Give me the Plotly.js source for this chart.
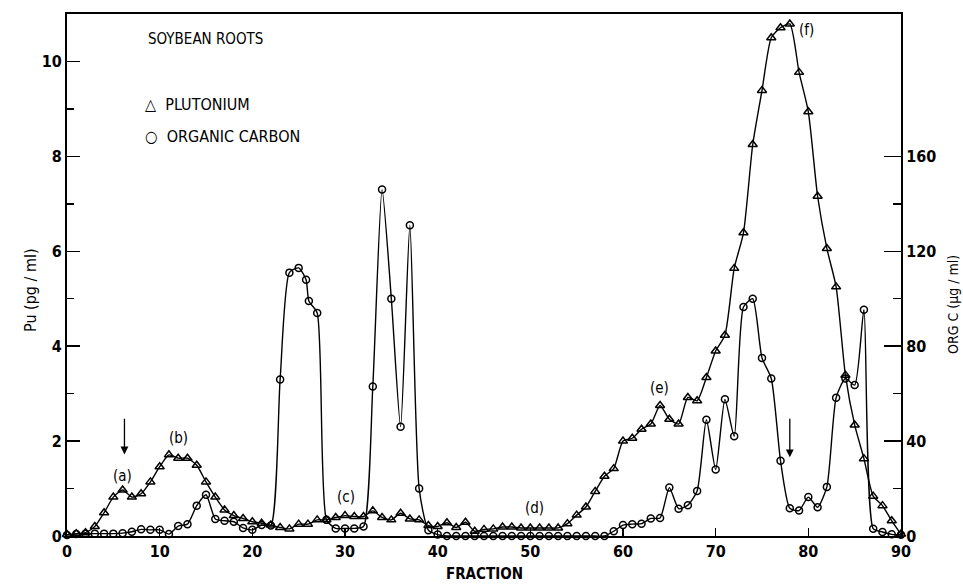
<!DOCTYPE html>
<html><head><meta charset="utf-8">
<script src="https://cdn.plot.ly/plotly-3.0.1.min.js"></script>
<style>html,body{margin:0;padding:0;background:#fff}#chart{width:963px;height:587px}</style>
</head><body><div id="chart"></div>
<script>
// Plutonium (pg/ml), one value per fraction 0..90
const puFraction = [];
for (let i = 0; i <= 90; i++) puFraction.push(i);
const puValues = [
  0.03,0.05,0.07,0.2,0.49,0.82,0.97,0.82,0.89,1.14,
  1.46,1.71,1.64,1.64,1.49,1.14,0.82,0.55,0.43,0.37,
  0.3,0.27,0.23,0.18,0.15,0.25,0.25,0.34,0.34,0.39,
  0.43,0.41,0.41,0.53,0.39,0.34,0.48,0.36,0.34,0.22,
  0.2,0.28,0.18,0.29,0.1,0.14,0.15,0.19,0.19,0.17,
  0.17,0.17,0.17,0.17,0.26,0.44,0.61,0.94,1.26,1.42,
  2.0,2.06,2.25,2.36,2.75,2.46,2.36,2.92,2.85,3.34,
  3.9,4.23,5.64,6.39,8.25,9.39,10.5,10.71,10.79,9.77,
  8.94,7.16,6.06,5.25,3.39,2.34,1.63,0.84,0.64,0.32,
  0.04
];
// Organic carbon (ug/ml)
const orgFraction = [
  0,1,2,3,4,5,6,7,8,9,10,11,12,13,14,15,16,17,18,19,20,21,22,23,24,25,25.8,26.1,27,28,29,30,31,32,33,34,35,36,37,38,39,40,
  41,42,43,44,45,46,47,48,49,50,51,52,53,54,55,56,57,58,59,60,61,62,63,64,65,66,67,68,69,70,71,72,73,74,75,76,77,78,79,80,
  81,82,83,84,85,86,87,88,89,90
];
const orgValues = [
  0.4,0.8,1,1,1,1,1.2,1.8,2.8,2.6,2.6,0.8,4.2,5,12.8,17.4,7.2,6.4,6,3.4,2.6,4.6,4.4,66,111,113,108,99,94,6.8,3.2,3.2,3.2,4,63,146,100,46,131,20,2.4,0.6,
  0,0,0,0,0,0,0,0,0,0,0,0,0,0,0,0,0,0,2,4.6,5,5.2,7.4,7.6,20.4,11.5,13,19,49,28,57.6,42,96.5,100,75,66.4,31.7,11.7,10.7,16.4,
  12.1,20.7,58.3,66.4,63.6,95.4,3.1,1.7,0.7,0.5
];
const xTickVals = [0,10,20,30,40,50,60,70,80,90];
const yTickVals = [0,2,4,6,8,10];
const yMinorVals = [1,3,5,7,9];
const y2TickVals = [0,40,80,120,160];
const y2MinorVals = [20,60,100,140];
const peakLabels = ['(a)','(b)','(c)','(d)','(e)','(f)'];
const peakFraction = [6,12,30.1,50.5,63.9,79.8];
const peakPu = [1.27,2.07,0.83,0.58,3.12,10.66];
const arrowFraction = [6.2,78];
const arrowTop = [2.5,2.5];
const arrowTip = [1.72,1.66];

const L = 67, R = 901, T = 14, B = 536;
const px = x => (x - L) / (R - L);
const py = y => (B - y) / (B - T);

const fam = '"Liberation Sans Narrow", "DejaVu Sans Condensed", Arial, sans-serif';
const numFont = {family: fam, size: 16, color: '#000', weight: 'bold'};
const txtFont = {family: fam, size: 15, color: '#000'};

const traces = [
  {x: puFraction, y: puValues, yaxis: 'y', mode: 'lines+markers', type: 'scatter',
   line: {color: '#000', width: 1.4, shape: 'spline', smoothing: 0.6},
   marker: {symbol: 'triangle-up-open', size: 8, color: '#000', line: {width: 1.5, color: '#000'}},
   cliponaxis: false, showlegend: false},
  {x: orgFraction, y: orgValues, yaxis: 'y2', mode: 'lines+markers', type: 'scatter',
   line: {color: '#000', width: 1.4, shape: 'spline', smoothing: 0.6},
   marker: {symbol: 'circle-open', size: 7, color: '#000', line: {width: 1.5, color: '#000'}},
   cliponaxis: false, showlegend: false}
];

const annotations = [];
peakLabels.forEach((t, i) => annotations.push({x: peakFraction[i], y: peakPu[i], xref: 'x', yref: 'y', text: t,
  showarrow: false, font: txtFont, xanchor: 'center', yanchor: 'middle'}));
arrowFraction.forEach((f, i) => annotations.push({x: f, y: arrowTip[i], ax: f, ay: arrowTop[i], xref: 'x', yref: 'y',
  axref: 'x', ayref: 'y', text: '', showarrow: true, arrowhead: 2, arrowsize: 1.2, arrowwidth: 1.3, arrowcolor: '#000'}));
annotations.push({x: px(146), y: py(39), xref: 'paper', yref: 'paper', xanchor: 'left', yanchor: 'middle',
  text: 'SOYBEAN ROOTS', showarrow: false, font: txtFont});
annotations.push({x: px(143), y: py(104), xref: 'paper', yref: 'paper', xanchor: 'left', yanchor: 'middle',
  text: '\u25B3  PLUTONIUM', showarrow: false, font: {family: fam, size: 16, color: '#000'}});
annotations.push({x: px(143), y: py(136), xref: 'paper', yref: 'paper', xanchor: 'left', yanchor: 'middle',
  text: '\u25CB  ORGANIC CARBON', showarrow: false, font: {family: fam, size: 16, color: '#000'}});
annotations.push({x: px(484), y: py(574), xref: 'paper', yref: 'paper', xanchor: 'center', yanchor: 'middle',
  text: '<b>FRACTION</b>', showarrow: false, font: txtFont});
annotations.push({x: px(30), y: py(290), xref: 'paper', yref: 'paper', xanchor: 'center', yanchor: 'middle',
  text: 'Pu (pg / ml)', textangle: -90, showarrow: false, font: {family: fam, size: 16, color: '#000'}});
annotations.push({x: px(953), y: py(305), xref: 'paper', yref: 'paper', xanchor: 'center', yanchor: 'middle',
  text: 'ORG C (\u00B5g / ml)', textangle: -90, showarrow: false, font: {family: fam, size: 14, color: '#000'}});

const layout = {
  width: 963, height: 587,
  margin: {l: L, r: 963 - R, t: T, b: 587 - B, pad: 0},
  paper_bgcolor: '#fff', plot_bgcolor: '#fff',
  showlegend: false,
  xaxis: {range: [0, 90], tickvals: xTickVals, ticks: 'inside', ticklen: 8, tickwidth: 1.5, tickcolor: '#000',
    showline: true, linewidth: 2, linecolor: '#000', mirror: true, showgrid: false, zeroline: false,
    tickfont: numFont},
  yaxis: {range: [0, 11], tickvals: yTickVals, ticks: 'inside', ticklen: 13, tickwidth: 1.5, tickcolor: '#000',
    minor: {tickvals: yMinorVals, ticks: 'inside', ticklen: 7, tickwidth: 1.5, tickcolor: '#000', showgrid: false},
    showline: true, linewidth: 2, linecolor: '#000', showgrid: false, zeroline: false, tickfont: numFont},
  yaxis2: {range: [0, 220], overlaying: 'y', side: 'right', tickvals: y2TickVals, ticks: 'inside', ticklen: 17,
    tickwidth: 1.5, tickcolor: '#000',
    minor: {tickvals: y2MinorVals, ticks: 'inside', ticklen: 8, tickwidth: 1.5, tickcolor: '#000', showgrid: false},
    showline: true, linewidth: 2, linecolor: '#000', showgrid: false, zeroline: false, tickfont: numFont},
  annotations: annotations
};
Plotly.newPlot('chart', traces, layout, {staticPlot: true, displayModeBar: false});
</script></body></html>
